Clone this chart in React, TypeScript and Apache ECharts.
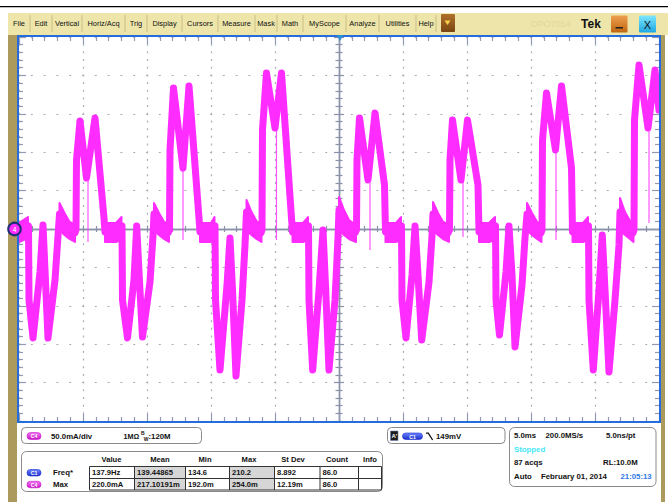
import React, { useEffect, useRef } from "react";
import * as echarts from "echarts";

// ---- Channel 4 current trace (time in ms, current in mA) ----
const timeMs = [
  0, 0.703,
  0.742, 0.781, 1.094, 1.641, 1.875, 2.031, 2.266, 2.813, 3.047,
  3.164, 3.594, 4.375,
  4.453, 4.492, 4.766, 5.273, 5.938, 6.641, 6.719,
  7.344, 8.008,
  8.047, 8.086, 8.477, 8.984, 9.195, 9.375, 9.648, 10.234, 10.469,
  10.547, 10.977, 11.641,
  11.758, 11.797, 12.07, 12.813, 13.281, 14.063, 14.141,
  14.688, 15.273,
  15.313, 15.352, 15.703, 16.25, 16.484, 16.68, 16.953, 17.422, 17.656,
  17.773, 18.203, 18.906,
  18.984, 19.023, 19.336, 20.0, 20.508, 21.289, 21.367,
  21.953, 22.578,
  22.617, 22.656, 22.945, 23.438, 23.75, 23.945, 24.219, 24.688, 24.922,
  25.0, 25.469, 26.25,
  26.367, 26.406, 26.602, 27.266, 27.813, 28.555, 28.633,
  29.219, 29.844,
  29.883, 29.922, 30.234, 30.703, 30.938, 31.172, 31.461, 32.031, 32.266,
  32.344, 32.773, 33.516,
  33.633, 33.672, 33.867, 34.531, 35.039, 35.859, 35.938,
  36.563, 37.188,
  37.227, 37.266, 37.539, 38.047, 38.281, 38.516, 38.75, 39.297, 39.531,
  39.688, 40.117, 40.781,
  40.859, 40.898, 41.211, 41.914, 42.383, 43.164, 43.242,
  43.828, 44.453,
  44.492, 44.531, 44.867, 45.313, 45.57, 45.781, 46.094, 46.563, 46.875,
  46.953, 47.383, 47.969,
  48.047, 48.086, 48.438, 49.141, 49.688, 50.0,
];
const currentMa = [
  -3.9, 2.6,
  3.9, -92.4, -141.9, -56.0, 5.2, -53.4, -141.9, -66.4, -9.1,
  19.5, 6.5, -5.2,
  -1.3, 89.8, 140.6, 66.4, 144.5, 14.3, -3.9,
  -5.2, -1.3,
  3.9, -92.4, -141.9, -66.4, 3.9, -56.0, -140.6, -69.0, -9.1,
  19.5, 6.5, -5.2,
  -1.3, 102.9, 183.6, 79.4, 186.2, 14.3, -3.9,
  -5.2, -1.3,
  3.9, -92.4, -183.6, -72.9, -11.7, -79.4, -191.4, -92.4, -20.8,
  22.1, 7.8, -5.2,
  -1.3, 128.9, 203.1, 131.5, 203.1, 14.3, -3.9,
  -5.2, -1.3,
  3.9, -92.4, -183.6, -79.4, -1.3, -72.9, -183.6, -92.4, -11.7,
  24.7, 9.1, -5.2,
  -1.3, 89.8, 144.5, 63.8, 151.0, 57.3, -3.9,
  -5.2, -1.3,
  3.9, -92.4, -141.9, -59.9, 3.9, -59.9, -144.5, -69.0, -9.1,
  19.5, 6.5, -5.2,
  -1.3, 89.8, 141.9, 63.8, 141.9, 57.3, -3.9,
  -5.2, -1.3,
  3.9, -92.4, -138.0, -56.0, 3.9, -59.9, -153.6, -72.9, -11.7,
  19.5, 6.5, -5.2,
  -1.3, 115.9, 177.1, 102.9, 186.2, 79.4, -3.9,
  -5.2, -1.3,
  3.9, -92.4, -183.6, -79.4, -7.8, -79.4, -186.2, -92.4, -20.8,
  22.1, 7.8, -5.2,
  -1.3, 141.9, 213.5, 131.5, 207.0, 154.9,
];

// ---- persistence envelope (plateaus / decaying steps), null separates regions ----
const envTime = [
  0, 0.703, null,
  3.164, 3.555, 3.945, 4.375, null,
  6.719, 7.578, 8.008, null,
  10.547, 10.938, 11.328, 11.719, null,
  14.141, 15.0, 15.273, null,
  17.773, 18.164, 18.555, 18.945, null,
  21.367, 22.188, 22.578, null,
  25.0, 25.391, 25.781, 26.328, null,
  28.633, 29.453, 29.844, null,
  32.344, 32.734, 33.125, 33.594, null,
  35.938, 36.719, 37.188, null,
  39.688, 40.078, 40.469, 40.82, null,
  43.242, 44.063, 44.453, null,
  46.953, 47.344, 47.734, 48.008, null,
];
const envHigh = [
  7.8, 15.6, null,
  33.9, 20.8, 9.5, 5.2, null,
  7.8, 7.8, 15.6, null,
  33.9, 20.8, 9.5, 5.2, null,
  7.8, 7.8, 15.6, null,
  37.8, 22.1, 10.4, 5.2, null,
  7.8, 7.8, 15.6, null,
  41.7, 24.7, 11.7, 5.2, null,
  7.8, 7.8, 15.6, null,
  35.2, 20.8, 9.5, 5.2, null,
  7.8, 7.8, 15.6, null,
  33.9, 20.8, 9.5, 5.2, null,
  7.8, 7.8, 15.6, null,
  40.4, 22.1, 10.4, 5.2, null,
];
const envLow = [
  -16.9, -11.7, null,
  -1.3, -7.8, -13.0, -16.9, null,
  -16.9, -16.9, -14.3, null,
  -1.3, -7.8, -13.0, -16.9, null,
  -16.9, -16.9, -14.3, null,
  -1.3, -7.8, -13.0, -16.9, null,
  -16.9, -16.9, -14.3, null,
  -1.3, -7.8, -13.0, -16.9, null,
  -16.9, -16.9, -14.3, null,
  -1.3, -7.8, -13.0, -16.9, null,
  -16.9, -16.9, -14.3, null,
  -1.3, -7.8, -13.0, -16.9, null,
  -16.9, -16.9, -14.3, null,
  -1.3, -7.8, -13.0, -16.9, null,
];

// ---- thin glitch lines in the valleys of the positive humps ----
const glitchTime = [5.391, 12.813, 20.117, 27.422, 34.688, 41.953, 49.219];
const glitchTop = [70.3, 79.4, 131.5, 63.8, 63.8, 102.9, 131.5];
const glitchBottom = [-16.9, -14.3, -14.3, -27.3, -10.4, -14.3, 7.8];

// ---- texts ----
const menuItems = ["File", "Edit", "Vertical", "Horiz/Acq", "Trig", "Display", "Cursors", "Measure", "Mask", "Math", "MyScope", "Analyze", "Utilities", "Help"];
const measHeaders = ["Value", "Mean", "Min", "Max", "St Dev", "Count", "Info"];
const freqRow = ["137.9Hz", "139.44865", "134.6", "210.2", "8.892", "86.0", ""];
const maxRow = ["220.0mA", "217.10191m", "192.0m", "254.0m", "12.19m", "86.0", ""];

export default function App() {
  const ref = useRef<HTMLDivElement>(null);

  useEffect(() => {
    const el = ref.current;
    if (!el) return;
    const chart = echarts.init(el, null, { renderer: "svg" });
    const FONT = '"Liberation Sans", Arial, Helvetica, sans-serif';
    const MAG = "#ff2cff";
    const TICK = "#939ab3";
    const DOT = "#a9adb9";
    const g: any[] = [];

    const text = (x: number, y: number, s: string, o: any = {}) =>
      g.push({
        type: "text",
        z: o.z ?? 20,
        x,
        y,
        style: {
          text: s,
          fill: o.fill ?? "#111",
          font: `${o.weight ?? "bold"} ${o.size ?? 8}px ${FONT}`,
          textAlign: o.align ?? "left",
          align: o.align ?? "left",
          textVerticalAlign: "middle",
          verticalAlign: "middle",
        },
      });
    const rect = (x: number, y: number, w: number, h: number, style: any, r = 0, z = 5) =>
      g.push({ type: "rect", z, shape: { x, y, width: w, height: h, r }, style });
    const badge = (x: number, y: number, w: number, h: number, label: string, top: string, bot: string) => {
      rect(x, y, w, h, {
        fill: new echarts.graphic.LinearGradient(0, 0, 0, 1, [
          { offset: 0, color: top },
          { offset: 1, color: bot },
        ]),
        stroke: bot,
        lineWidth: 0.6,
      }, h / 2, 15);
      text(x + w / 2, y + h / 2 + 0.3, label, { fill: "#fff", size: 5.2, align: "center" });
    };

    // top frame
    rect(0, 6, 668, 1.3, { fill: "#000" });
    rect(8, 13, 660, 22, { fill: "#ede5aa" });
    rect(8, 35, 9, 467, { fill: "#ab9a5b" });
    rect(661, 35, 4, 467, { fill: "#ab9a5b" });

    // menu
    const seps = [30, 52, 82, 125, 147, 182, 218, 255, 277, 303, 346, 379, 416, 436];
    let prev = 8;
    menuItems.forEach((m, i) => {
      text((prev + seps[i]) / 2, 23.5, m, { weight: "normal", size: 7.4, align: "center" });
      g.push({ type: "line", z: 6, shape: { x1: seps[i], y1: 15, x2: seps[i], y2: 32 }, style: { stroke: "#cbbf85", lineWidth: 1 } });
      prev = seps[i];
    });
    rect(441, 14, 14, 18, {
      fill: new echarts.graphic.LinearGradient(0, 0, 0, 1, [
        { offset: 0, color: "#b0702c" },
        { offset: 1, color: "#7a4510" },
      ]),
    }, 1, 6);
    g.push({ type: "polygon", z: 7, shape: { points: [[444.5, 20.5], [450.5, 20.5], [447.5, 25]] }, style: { fill: "#f7d24a" } });
    text(551, 23.5, "DPO7054", { weight: "normal", size: 9, align: "center", fill: "#e3d89c" });
    text(591, 23.5, "Tek", { size: 12, align: "center" });
    rect(611, 15.5, 16.5, 17, {
      fill: new echarts.graphic.LinearGradient(0, 0, 0, 1, [
        { offset: 0, color: "#eea050" },
        { offset: 1, color: "#c0650f" },
      ]),
    }, 1, 6);
    rect(615.5, 27, 7.5, 1.6, { fill: "#222" }, 0, 7);
    rect(639, 15.5, 17, 17, {
      fill: new echarts.graphic.LinearGradient(0, 0, 0, 1, [
        { offset: 0, color: "#7ee6ff" },
        { offset: 1, color: "#1ea6e0" },
      ]),
    }, 1, 6);
    text(647.5, 24.5, "X", { size: 11, align: "center", weight: "normal", fill: "#111" });

    // graticule border + markers
    g.push({ type: "rect", z: 30, shape: { x: 18, y: 36, width: 642, height: 386 }, style: { fill: "none", stroke: "#256ddc", lineWidth: 2 } });
    g.push({ type: "polygon", z: 31, shape: { points: [[336.5, 35], [343.5, 35], [340, 41]] }, style: { fill: "#2d8fd5" } });
    g.push({ type: "polygon", z: 31, shape: { points: [[21.5, 226], [27, 229], [21.5, 232]] }, style: { fill: MAG } });
    g.push({ type: "circle", z: 32, shape: { cx: 14.5, cy: 229, r: 6.3 }, style: { fill: MAG, stroke: "#1c2e78", lineWidth: 2 } });
    text(14.5, 229.3, "4", { size: 6.5, align: "center", fill: "#ffd8ff", z: 33 });

    // bottom box 1 : channel
    rect(21.5, 427.5, 180, 16, { fill: "#fff", stroke: "#8a8a8a", lineWidth: 1 }, 4);
    badge(27, 432.5, 14, 7, "C4", "#f47af4", "#c713c7");
    text(51, 436, "50.0mA/div", { size: 7.8 });
    text(123.5, 436, "1MΩ", { size: 7.2 });
    text(141, 433.2, "B", { size: 5 });
    text(143.8, 438.6, "W", { size: 5 });
    text(148.5, 436, ":120M", { size: 7.8 });

    // bottom box 2 : measurements
    rect(21.5, 451.5, 361, 40, { fill: "#fff", stroke: "#8a8a8a", lineWidth: 1 }, 5);
    const colEdges = [89.5, 134.5, 185.5, 229.5, 274.5, 320, 358.5, 381.5];
    const headX = [111.5, 160, 205, 249, 293, 337, 370];
    measHeaders.forEach((h, i) => text(headX[i], 459.8, h, { size: 7.6, align: "center" }));
    rect(134.5, 466.5, 51, 23.5, { fill: "#d6d6d6" }, 0, 6);
    rect(229.5, 466.5, 45, 23.5, { fill: "#d6d6d6" }, 0, 6);
    rect(89.5, 466.5, 292, 23.5, { fill: "none", stroke: "#333", lineWidth: 1 }, 0, 8);
    g.push({ type: "line", z: 8, shape: { x1: 89.5, y1: 478.5, x2: 381.5, y2: 478.5 }, style: { stroke: "#333", lineWidth: 1 } });
    colEdges.slice(1, -1).forEach((x) =>
      g.push({ type: "line", z: 8, shape: { x1: x, y1: 466.5, x2: x, y2: 490 }, style: { stroke: "#333", lineWidth: 1 } })
    );
    freqRow.forEach((s, i) => s && text(colEdges[i] + 2.5, 472.7, s, { size: 7.6 }));
    maxRow.forEach((s, i) => s && text(colEdges[i] + 2.5, 484.5, s, { size: 7.6 }));
    badge(27, 469.5, 14, 6.5, "C1", "#6f86ff", "#1a2ccc");
    text(53, 472.7, "Freq*", { size: 7.8 });
    badge(27, 481.3, 14, 6.5, "C4", "#f47af4", "#c713c7");
    text(53, 484.5, "Max", { size: 7.8 });

    // bottom box 3 : trigger
    rect(387.5, 427.5, 117.5, 16, { fill: "#fff", stroke: "#8a8a8a", lineWidth: 1 }, 4);
    rect(390.5, 431, 7.5, 9.5, { fill: "#1b1b1b", stroke: "#6d7fb0", lineWidth: 0.6 }, 0, 12);
    text(394.3, 436, "A'", { size: 6, align: "center", fill: "#fff" });
    badge(402.5, 433, 20, 6.5, "C1", "#6f86ff", "#1a2ccc");
    g.push({ type: "polyline", z: 15, shape: { points: [[426, 433.2], [428.3, 433.2], [432.6, 440]] }, style: { stroke: "#111", lineWidth: 1.3, fill: "none" } });
    text(436, 436, "149mV", { size: 7.8 });

    // bottom box 4 : acquisition
    rect(509.5, 427.5, 146.5, 59, { fill: "#fff", stroke: "#8a8a8a", lineWidth: 1 }, 5);
    text(514, 435.3, "5.0ms", { size: 7.8 });
    text(545.5, 435.3, "200.0MS/s", { size: 7.8 });
    text(606, 435.3, "5.0ns/pt", { size: 7.8 });
    text(514, 449.2, "Stopped", { size: 7.8, fill: "#45e6f8" });
    text(514, 462.8, "87 acqs", { size: 7.8 });
    text(603, 462.8, "RL:10.0M", { size: 7.8 });
    text(514, 476.3, "Auto", { size: 7.8 });
    text(541, 476.3, "February 01, 2014", { size: 7.8 });
    text(620.5, 476.3, "21:05:13", { size: 7.8, fill: "#2f7ae6" });

    const axisBase = {
      type: "value" as const,
      axisLabel: { show: false },
      splitLine: { show: false },
    };
    const edgeX = (position: string, split: boolean) => ({
      ...axisBase,
      min: 0, max: 50, interval: 5, position,
      axisLine: { show: false, onZero: false },
      axisTick: { show: true, inside: true, length: 7, lineStyle: { color: TICK, width: 1.2 } },
      minorTick: { show: true, splitNumber: 5, length: 4, lineStyle: { color: TICK, width: 1.2 } },
      splitLine: { show: split, lineStyle: { color: DOT, width: 1.2, type: [2, 5.68], dashOffset: 1 } },
    });
    const edgeY = (position: string, split: boolean) => ({
      ...axisBase,
      min: -250, max: 250, interval: 50, position,
      axisLine: { show: false, onZero: false },
      axisTick: { show: true, inside: true, length: 7, lineStyle: { color: TICK, width: 1.2 } },
      minorTick: { show: true, splitNumber: 5, length: 4, lineStyle: { color: TICK, width: 1.2 } },
      splitLine: { show: split, lineStyle: { color: DOT, width: 1.2, type: [2, 10.8], dashOffset: 1 } },
    });
    const centerX = (position: string) => ({
      ...axisBase,
      min: 0, max: 50, interval: 5, position, offset: -192,
      axisLine: { show: true, onZero: false, lineStyle: { color: "#8a92aa", width: 1.4 } },
      axisTick: { show: true, inside: true, length: 3.5, lineStyle: { color: "#8a92aa", width: 1.2 } },
      minorTick: { show: true, splitNumber: 5, length: 3, lineStyle: { color: "#8a92aa", width: 1.2 } },
    });
    const centerY = (position: string) => ({
      ...axisBase,
      min: -250, max: 250, interval: 50, position, offset: -320,
      axisLine: { show: true, onZero: false, lineStyle: { color: "#8a92aa", width: 1.4 } },
      axisTick: { show: true, inside: true, length: 5, lineStyle: { color: "#8a92aa", width: 1.2 } },
      minorTick: { show: true, splitNumber: 5, length: 3.5, lineStyle: { color: "#8a92aa", width: 1.2 } },
    });

    const option: any = {
      animation: false,
      grid: { left: 19, top: 37, width: 640, height: 384, containLabel: false },
      xAxis: [edgeX("bottom", true), edgeX("top", false), centerX("bottom"), centerX("top")],
      yAxis: [edgeY("left", true), edgeY("right", false), centerY("left"), centerY("right")],
      series: [
        {
          type: "custom",
          xAxisIndex: 0,
          yAxisIndex: 0,
          clip: true,
          z: 3,
          data: [[0, 0]],
          renderItem: (_params: any, api: any) => {
            const children: any[] = [];
            let up: number[][] = [];
            let lo: number[][] = [];
            for (let i = 0; i <= envTime.length; i++) {
              const t = envTime[i];
              if (t == null) {
                if (up.length) {
                  children.push({
                    type: "polygon",
                    shape: { points: up.concat(lo.reverse()) },
                    style: { fill: MAG, stroke: MAG, lineWidth: 2, lineJoin: "round" },
                  });
                }
                up = [];
                lo = [];
              } else {
                up.push(api.coord([t, envHigh[i]]));
                lo.push(api.coord([t, envLow[i]]));
              }
            }
            return { type: "group", children };
          },
        },
        {
          type: "line",
          xAxisIndex: 0,
          yAxisIndex: 0,
          z: 4,
          symbol: "none",
          clip: true,
          lineStyle: { color: MAG, width: 7, join: "round", cap: "round" },
          data: timeMs.map((t, i) => [t, currentMa[i]]),
        },
        {
          type: "custom",
          xAxisIndex: 0,
          yAxisIndex: 0,
          z: 4,
          clip: true,
          encode: { x: 0, y: [1, 2] },
          data: glitchTime.map((t, i) => [t, glitchTop[i], glitchBottom[i]]),
          renderItem: (_params: any, api: any) => {
            const p1 = api.coord([api.value(0), api.value(1)]);
            const p2 = api.coord([api.value(0), api.value(2)]);
            return {
              type: "line",
              shape: { x1: p1[0], y1: p1[1], x2: p2[0], y2: p2[1] },
              style: { stroke: MAG, lineWidth: 1.2, opacity: 0.8 },
            };
          },
        },
      ],
      graphic: { elements: g },
    };
    chart.setOption(option);
    return () => chart.dispose();
  }, []);

  return (
    <div
      ref={ref}
      style={{ position: "fixed", left: 0, top: 0, width: 668, height: 502, background: "#ffffff" }}
    />
  );
}
